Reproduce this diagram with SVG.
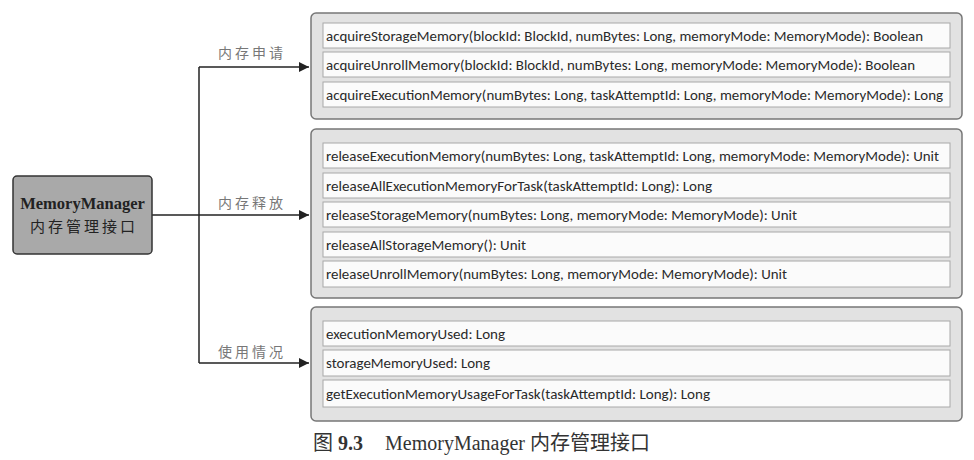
<svg xmlns="http://www.w3.org/2000/svg" width="974" height="460" viewBox="0 0 974 460">
<defs>
<marker id="arr" viewBox="0 0 10 10" refX="10" refY="5" markerWidth="10" markerHeight="10" markerUnits="userSpaceOnUse" orient="auto">
<path d="M0,0 L10,5 L0,10 z" fill="#222"/>
</marker>
</defs>
<style>
.grp{fill:#e2e2e2;stroke:#777;stroke-width:1.5}
.row{fill:#fbfbfb;stroke:#a8a8a8;stroke-width:1}
.t{font-family:Carlito,Calibri,"Liberation Sans",sans-serif;font-size:14px;fill:#2a2a2a}
.lbl{font-family:"Noto Sans CJK SC",sans-serif;font-size:14px;fill:#777;letter-spacing:3px}
.conn{fill:none;stroke:#222;stroke-width:1.5}
</style>
<rect width="974" height="460" fill="#fff"/>
<g id="connectors">
<path class="conn" d="M152,215 H309" marker-end="url(#arr)"/>
<path class="conn" d="M199,67 V363"/>
<path class="conn" d="M199,67 H309" marker-end="url(#arr)"/>
<path class="conn" d="M199,363 H309" marker-end="url(#arr)"/>
<text class="lbl" x="218" y="58">内存申请</text>
<text class="lbl" x="218" y="208">内存释放</text>
<text class="lbl" x="218" y="357">使用情况</text>
</g>
<g id="memoryManager">
<rect x="13" y="176" width="139" height="78" rx="4" fill="#a9a9a9" stroke="#333" stroke-width="1.5"/>
<text x="82.5" y="209" text-anchor="middle" font-family="'Liberation Serif',serif" font-weight="bold" font-size="16.5" fill="#222">MemoryManager</text>
<text x="84" y="232" text-anchor="middle" font-family="'Noto Sans CJK SC',sans-serif" font-size="15" fill="#222" letter-spacing="3">内存管理接口</text>
</g>
<g id="acquireGroup">
<rect class="grp" x="311" y="13" width="651" height="106" rx="5"/>
<rect class="row" x="323" y="23" width="627" height="25"/>
<rect class="row" x="323" y="52" width="627" height="25"/>
<rect class="row" x="323" y="82" width="627" height="25"/>
<text class="t" x="326" y="41" textLength="597" lengthAdjust="spacingAndGlyphs">acquireStorageMemory(blockId: BlockId, numBytes: Long, memoryMode: MemoryMode): Boolean</text>
<text class="t" x="326" y="70" textLength="589" lengthAdjust="spacingAndGlyphs">acquireUnrollMemory(blockId: BlockId, numBytes: Long, memoryMode: MemoryMode): Boolean</text>
<text class="t" x="326" y="100" textLength="617" lengthAdjust="spacingAndGlyphs">acquireExecutionMemory(numBytes: Long, taskAttemptId: Long, memoryMode: MemoryMode): Long</text>
</g>
<g id="releaseGroup">
<rect class="grp" x="311" y="129" width="651" height="169" rx="5"/>
<rect class="row" x="323" y="143" width="627" height="25"/>
<rect class="row" x="323" y="173" width="627" height="25"/>
<rect class="row" x="323" y="202" width="627" height="25"/>
<rect class="row" x="323" y="232" width="627" height="25"/>
<rect class="row" x="323" y="261" width="627" height="26"/>
<text class="t" x="326" y="161" textLength="613" lengthAdjust="spacingAndGlyphs">releaseExecutionMemory(numBytes: Long, taskAttemptId: Long, memoryMode: MemoryMode): Unit</text>
<text class="t" x="326" y="191" textLength="386" lengthAdjust="spacingAndGlyphs">releaseAllExecutionMemoryForTask(taskAttemptId: Long): Long</text>
<text class="t" x="326" y="220" textLength="471" lengthAdjust="spacingAndGlyphs">releaseStorageMemory(numBytes: Long, memoryMode: MemoryMode): Unit</text>
<text class="t" x="326" y="250" textLength="200" lengthAdjust="spacingAndGlyphs">releaseAllStorageMemory(): Unit</text>
<text class="t" x="326" y="279" textLength="461" lengthAdjust="spacingAndGlyphs">releaseUnrollMemory(numBytes: Long, memoryMode: MemoryMode): Unit</text>
</g>
<g id="usageGroup">
<rect class="grp" x="311" y="307" width="651" height="114" rx="5"/>
<rect class="row" x="323" y="321" width="627" height="25"/>
<rect class="row" x="323" y="350" width="627" height="26"/>
<rect class="row" x="323" y="380" width="627" height="27"/>
<text class="t" x="326" y="339" textLength="179" lengthAdjust="spacingAndGlyphs">executionMemoryUsed: Long</text>
<text class="t" x="326" y="368" textLength="164" lengthAdjust="spacingAndGlyphs">storageMemoryUsed: Long</text>
<text class="t" x="326" y="399" textLength="384" lengthAdjust="spacingAndGlyphs">getExecutionMemoryUsageForTask(taskAttemptId: Long): Long</text>
</g>
<g id="caption">
<text x="313" y="450" font-family="'Liberation Serif','Noto Sans CJK SC',serif" font-size="20" fill="#333">图 <tspan font-weight="bold">9.3</tspan><tspan x="385">MemoryManager 内存管理接口</tspan></text>
</g>
</svg>
